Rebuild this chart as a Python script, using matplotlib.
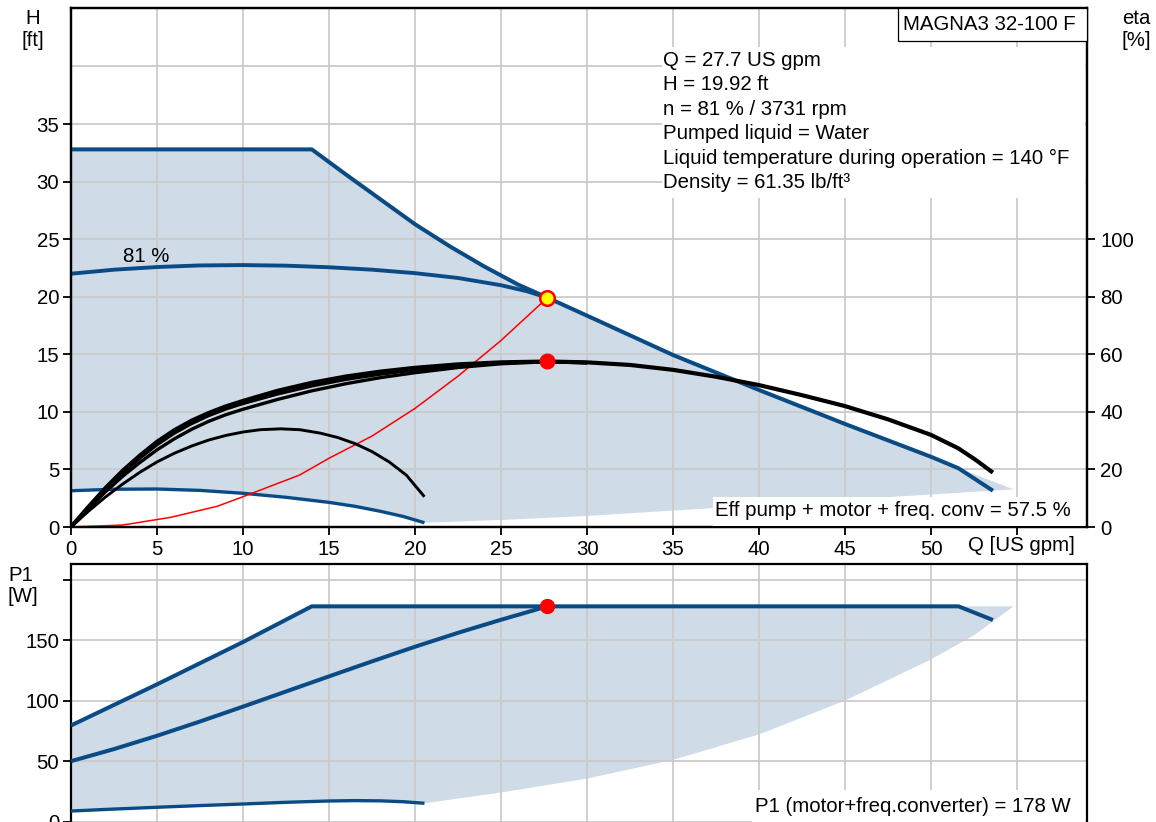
import matplotlib
matplotlib.use("Agg")
import matplotlib.pyplot as plt
from matplotlib.patches import Rectangle, Polygon

plt.rcParams['font.family'] = ['Liberation Sans', 'DejaVu Sans']

# ---------------- data ----------------
# operating point
Q_op = 27.7
H_op = 19.92
eta_op = 57.5
P1_op = 178
speed_pct = 81
speed_rpm = 3731

# head curves (Q [US gpm], H [ft])
Q_max = [0, 14.0, 16, 18, 20, 22, 24, 26, 27.7, 30.76, 35, 40, 45, 50, 51.6, 53.6]
H_max = [32.8, 32.8, 30.6, 28.45, 26.3, 24.4, 22.65, 21.05, 19.92, 17.84, 14.94, 11.9, 8.95, 6.1, 5.1, 3.15]

Q_81 = [0, 2.5, 5, 7.5, 10, 12.5, 15, 17.5, 20, 22.5, 25, 26.5, 27.7]
H_81 = [22.0, 22.35, 22.58, 22.72, 22.75, 22.7, 22.56, 22.35, 22.05, 21.63, 21.0, 20.48, 19.92]

Q_min = [0, 2.5, 5, 7.5, 10, 12.5, 15, 16.5, 18, 19.3, 20.55]
H_min = [3.15, 3.28, 3.3, 3.18, 2.93, 2.58, 2.14, 1.8, 1.36, 0.92, 0.37]

# lower edge of the operating range (from end of min curve to tip)
Q_edge = [20.55, 25, 30, 54.8]
H_edge = [0.37, 0.61, 0.96, 3.27]

# system curve
Q_sys = [0, 3, 5.8, 8.5, 10, 13.3, 15, 17.5, 20, 22.5, 25, 27.7]
H_sys = [0, 0.17, 0.84, 1.8, 2.63, 4.52, 5.97, 7.9, 10.3, 13.1, 16.2, 19.92]

# efficiency curves (eta [%])
Q_etaA = [0, 1, 2, 3, 4, 5, 6, 7, 8, 9, 10, 12, 14, 16, 18, 20, 22.5, 25, 27.7, 30,
          32.5, 35, 37.5, 40, 42.5, 45, 47.5, 50, 51.6, 52.6, 53.6]
eta_A = [0, 6.9, 13.5, 19.5, 24.8, 29.6, 33.6, 36.9, 39.6, 41.9, 43.8, 47.3, 50.1, 52.3,
         54.0, 55.3, 56.5, 57.2, 57.5, 57.2, 56.3, 54.6, 52.2, 49.3, 45.8, 42.0, 37.4,
         32.0, 27.3, 23.3, 18.9]
Q_etaB = [0, 1, 2, 3, 4, 5, 6, 7, 8, 9, 10, 12, 14, 16, 18, 20, 22.5, 25, 27.7, 30]
eta_B = [0, 6.6, 13.0, 18.8, 23.9, 28.6, 32.6, 35.9, 38.7, 41.0, 42.9, 46.2, 49.0, 51.3,
         53.1, 54.6, 56.0, 57.0, 57.5, 57.1]
eta_C = [0, 6.2, 12.2, 17.6, 22.4, 26.8, 30.6, 33.9, 36.7, 39.0, 40.9, 44.3, 47.3, 49.8,
         51.9, 53.6, 55.4, 56.7, 57.4, 57.0]
Q_etaD = [0, 1, 2, 3, 4, 5, 6, 7, 8, 9, 10, 11, 12.2, 13.3, 14.5, 15.5, 16.5, 17.5, 18.5,
          19.5, 20.55]
eta_D = [0, 5.4, 10.4, 14.9, 19.0, 22.6, 25.6, 28.1, 30.2, 31.8, 33.0, 33.8, 34.1, 33.8,
         32.6, 31.1, 29.0, 26.2, 22.6, 18.0, 10.5]

# power curves (P1 [W])
Q_p1max = [0, 5, 10, 14.0, 51.6, 53.6]
P_max = [79.5, 113.5, 148.5, 178, 178, 166.7]
Q_p181 = [0, 2.5, 5, 7.5, 10, 12.5, 15, 17.5, 20, 22.5, 25, 27.7]
P_81 = [50, 60, 71, 82.8, 95.1, 107.6, 120.1, 132.5, 144.6, 156.1, 166.9, 178]
Q_p1min = [0, 2.5, 5, 7.5, 10, 12.5, 15, 16.5, 18, 19.3, 20.55]
P_min = [8.8, 10.4, 11.9, 13.3, 14.6, 16.0, 17.1, 17.4, 17.2, 16.5, 15.2]
Q_p1edge = [20.55, 25, 30, 35, 40, 45, 50, 52.5, 54.8]
P_edge = [15.2, 24.1, 35.6, 51.1, 72.1, 100.1, 134.1, 154.1, 178]

Q_ticks = [0, 5, 10, 15, 20, 25, 30, 35, 40, 45, 50, 55]
H_ticks = [0, 5, 10, 15, 20, 25, 30, 35]
eta_ticks = [0, 20, 40, 60, 80, 100]
P_ticks = [0, 50, 100, 150, 200]

# ---------------- style ----------------
W, Hpx = 1156, 822
BLUE = '#0a4b86'
SHADE = '#cfdbe7'
GRID = '#cbcbcb'
FS = 14.7


def fx(x):
    return x / W


def fy(y):
    return 1 - y / Hpx


fig = plt.figure(figsize=(W / 100, Hpx / 100), dpi=100)

ax = fig.add_axes([fx(71), fy(527), (1087 - 71) / W, (527 - 8) / Hpx])
axb = fig.add_axes([fx(71), fy(834), (1087 - 71) / W, (834 - 564) / Hpx])
ax2 = ax.twinx()

ax.set_xlim(0, 59.07)
ax.set_ylim(0, 45.08)
ax2.set_ylim(0, 180.3)
axb.set_xlim(0, 59.07)
axb.set_ylim(-10.2, 213)

for a in (ax, ax2, axb):
    for s in a.spines.values():
        s.set_linewidth(1.6)
        s.set_color('black')

# shaded operating area (top)
top_pts = list(zip(Q_max[:-1], H_max[:-1])) + [(Q_edge[-1], H_edge[-1])]
low_pts = list(zip(Q_edge[::-1], H_edge[::-1]))[1:] + list(zip(Q_min[::-1], H_min[::-1]))[1:]
ax.add_patch(Polygon(top_pts + low_pts, closed=True, facecolor=SHADE, edgecolor='none', zorder=0.2))

# shaded area (bottom)
btop = list(zip(Q_p1max[:-1], P_max[:-1])) + [(Q_p1edge[-1], P_edge[-1])]
blow = list(zip(Q_p1edge[::-1], P_edge[::-1]))[1:] + list(zip(Q_p1min[::-1], P_min[::-1]))[1:]
axb.add_patch(Polygon(btop + blow, closed=True, facecolor=SHADE, edgecolor='none', zorder=0.2))

# grids / ticks
ax.set_axisbelow(True)
axb.set_axisbelow(True)
ax.set_xticks(Q_ticks)
ax.set_xticklabels([str(v) for v in Q_ticks[:-1]] + [''])
ax.set_yticks(H_ticks)
ax.set_yticklabels([str(v) for v in H_ticks])
ax.set_yticks([40], minor=True)
ax.grid(True, which='both', color=GRID, lw=1.3)
ax.tick_params(axis='both', which='major', direction='out', length=5.5, width=1.3,
               labelsize=FS, pad=3)
ax.tick_params(axis='x', which='major', pad=4)
ax.tick_params(axis='y', which='minor', length=0)
ax.tick_params(axis='x', which='minor', length=0)

ax2.set_yticks(eta_ticks)
ax2.set_yticklabels([str(v) for v in eta_ticks])
ax2.tick_params(axis='y', direction='out', length=5.5, width=1.3, labelsize=FS, pad=4)

axb.set_xticks(Q_ticks)
axb.set_yticks(P_ticks)
axb.set_yticklabels([str(v) for v in P_ticks[:-1]] + [''])
axb.grid(True, color=GRID, lw=1.3)
axb.tick_params(axis='x', length=0, labelbottom=False)
axb.tick_params(axis='y', direction='out', length=5.5, width=1.3, labelsize=FS, pad=3)

# head curves
kw = dict(solid_capstyle='butt', solid_joinstyle='round')
ax.plot(Q_min, H_min, color=BLUE, lw=2.4, zorder=3, **kw)
ax.plot(Q_81, H_81, color=BLUE, lw=2.8, zorder=3, **kw)
ax.plot(Q_max, H_max, color=BLUE, lw=2.9, zorder=3, **kw)
ax.plot(Q_sys, H_sys, color='#ff0000', lw=1.1, zorder=4)

# efficiency curves
ax2.plot(Q_etaD, eta_D, color='black', lw=2.1, zorder=3, **kw)
ax2.plot(Q_etaB, eta_C, color='black', lw=2.4, zorder=3, **kw)
ax2.plot(Q_etaB, eta_B, color='black', lw=2.4, zorder=3, **kw)
ax2.plot(Q_etaA, eta_A, color='black', lw=3.0, zorder=3, **kw)

# power curves
axb.plot(Q_p1min, P_min, color=BLUE, lw=2.4, zorder=3, **kw)
axb.plot(Q_p181, P_81, color=BLUE, lw=2.9, zorder=3, **kw)
axb.plot(Q_p1max, P_max, color=BLUE, lw=2.9, zorder=3, **kw)

# operating point markers
ax2.plot([Q_op], [eta_op], 'o', ms=10.5, color='#ff0000', zorder=6)
ax.plot([Q_op], [H_op], 'o', ms=10.5, mfc='#ffff00', mec='#ff0000', mew=1.8, zorder=6)
axb.plot([Q_op], [P1_op], 'o', ms=10, color='#ff0000', zorder=6)

ax.text(3.02, 23.5, f"{speed_pct} %", fontsize=FS, ha='left', va='center', zorder=5)


# white boxes behind annotation texts
def white_box(x0, y0, x1, y1, edge='none', lw=0):
    r = Rectangle((fx(x0), fy(y1)), (x1 - x0) / W, (y1 - y0) / Hpx, transform=fig.transFigure,
                  facecolor='white', edgecolor=edge, lw=lw, zorder=2)
    fig.add_artist(r)


white_box(662, 47, 1085, 198)
white_box(713, 497, 1085, 525.5)
white_box(752, 790, 1085, 830)
white_box(898, 8.5, 1086.5, 41, edge='black', lw=0.9)

info = [
    f"Q = {Q_op} US gpm",
    f"H = {H_op} ft",
    f"n = {speed_pct} % / {speed_rpm} rpm",
    "Pumped liquid = Water",
    "Liquid temperature during operation = 140 °F",
    "Density = 61.35 lb/ft³",
]
for i, line in enumerate(info):
    fig.text(fx(663), fy(60 + i * 24.6), line, fontsize=FS, ha='left', va='center', zorder=3)

fig.text(fx(903), fy(24), "MAGNA3 32-100 F", fontsize=FS, ha='left', va='center', zorder=3)
fig.text(fx(1071), fy(510), f"Eff pump + motor + freq. conv = {eta_op} %", fontsize=FS,
         ha='right', va='center', zorder=3)
fig.text(fx(1071), fy(806), f"P1 (motor+freq.converter) = {P1_op} W", fontsize=FS,
         ha='right', va='center', zorder=3)

# axis labels
fig.text(fx(32.5), fy(18.5), "H", fontsize=FS, ha='center', va='center')
fig.text(fx(32.5), fy(40), "[ft]", fontsize=FS, ha='center', va='center')
fig.text(fx(1136), fy(18.5), "eta", fontsize=FS, ha='center', va='center')
fig.text(fx(1136), fy(40), "[%]", fontsize=FS, ha='center', va='center')
fig.text(fx(21), fy(575.5), "P1", fontsize=FS, ha='center', va='center')
fig.text(fx(23), fy(596), "[W]", fontsize=FS, ha='center', va='center')
fig.text(fx(1075), fy(545), "Q [US gpm]", fontsize=FS, ha='right', va='center')

fig.savefig("out.png", dpi=100)
